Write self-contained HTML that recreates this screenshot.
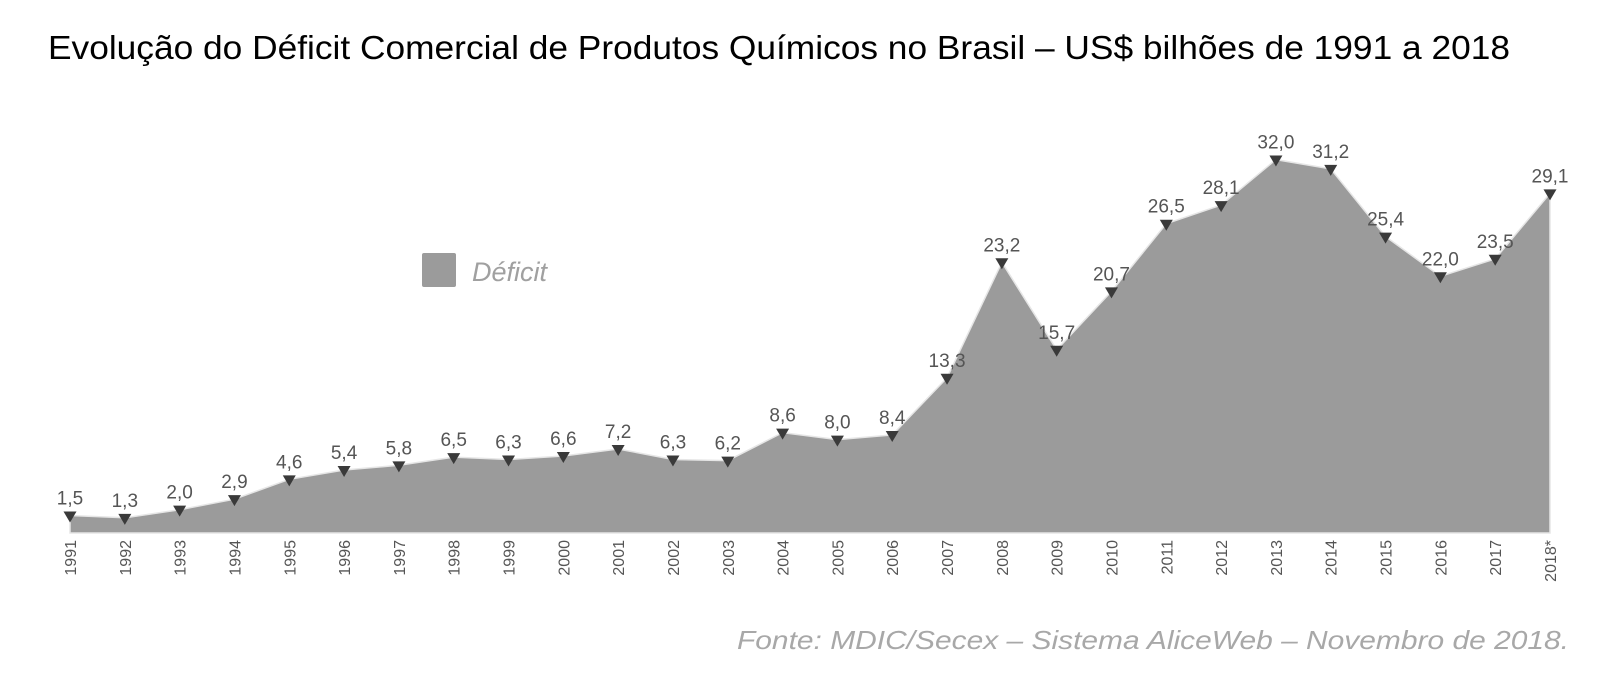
<!DOCTYPE html>
<html><head><meta charset="utf-8"><style>
html,body{margin:0;padding:0;background:#fff;width:1600px;height:681px;overflow:hidden}
svg{display:block}
</style></head><body>
<svg id="chart" width="1600" height="681" xmlns="http://www.w3.org/2000/svg">
<text x="48" y="59" font-family="Liberation Sans, sans-serif" font-size="33" fill="#000" textLength="1462" lengthAdjust="spacingAndGlyphs">Evolução do Déficit Comercial de Produtos Químicos no Brasil – US$ bilhões de 1991 a 2018</text>
<g>
<rect x="422" y="253" width="34" height="34" rx="2" fill="#9b9b9b"/>
<text x="472" y="281" font-family="Liberation Sans, sans-serif" font-style="italic" font-size="27" fill="#a0a0a0">Déficit</text>
</g>
<g id="plot"></g>
<text x="1569" y="649" text-anchor="end" font-family="Liberation Sans, sans-serif" font-style="italic" font-size="26" fill="#a8a8a8" textLength="832" lengthAdjust="spacingAndGlyphs">Fonte: MDIC/Secex – Sistema AliceWeb – Novembro de 2018.</text>
</svg>
<script>
const years = ["1991","1992","1993","1994","1995","1996","1997","1998","1999","2000","2001","2002","2003","2004","2005","2006","2007","2008","2009","2010","2011","2012","2013","2014","2015","2016","2017","2018*"];
const deficit = [1.5,1.3,2.0,2.9,4.6,5.4,5.8,6.5,6.3,6.6,7.2,6.3,6.2,8.6,8.0,8.4,13.3,23.2,15.7,20.7,26.5,28.1,32.0,31.2,25.4,22.0,23.5,29.1];
const valueLabels = ["1,5","1,3","2,0","2,9","4,6","5,4","5,8","6,5","6,3","6,6","7,2","6,3","6,2","8,6","8,0","8,4","13,3","23,2","15,7","20,7","26,5","28,1","32,0","31,2","25,4","22,0","23,5","29,1"];

const NS = "http://www.w3.org/2000/svg";
const plot = document.getElementById("plot");
const X0 = 70, X1 = 1550, BASE = 533, PXU = 11.67;
function xScale(i){ return X0 + i * (X1 - X0) / (years.length - 1); }
function yScale(v){ return BASE - v * PXU; }

let d = "M" + xScale(0) + "," + BASE;
deficit.forEach((v,i)=>{ d += " L" + xScale(i).toFixed(1) + "," + yScale(v).toFixed(1); });
d += " L" + xScale(deficit.length-1) + "," + BASE + " Z";
const area = document.createElementNS(NS,"path");
area.setAttribute("d", d);
area.setAttribute("fill", "#9b9b9b");
area.setAttribute("stroke", "#e6e6e6");
area.setAttribute("stroke-width", "1.5");


plot.appendChild(area);

deficit.forEach((v,i)=>{
  const x = xScale(i), y = yScale(v);
  const tri = document.createElementNS(NS,"polygon");
  tri.setAttribute("points", (x-6.5)+","+(y-4)+" "+(x+6.5)+","+(y-4)+" "+x+","+(y+7));
  tri.setAttribute("fill", "#3a3a3a");
  
  
  plot.appendChild(tri);

  const t = document.createElementNS(NS,"text");
  t.setAttribute("x", x);
  t.setAttribute("y", y - 11);
  t.setAttribute("text-anchor", "middle");
  t.setAttribute("font-family", "Liberation Sans, sans-serif");
  t.setAttribute("font-size", "19");
  t.setAttribute("fill", "#555");
  t.textContent = valueLabels[i];
  
  
  plot.appendChild(t);

  const yl = document.createElementNS(NS,"text");
  yl.setAttribute("transform", "translate(" + (x + 6) + "," + (BASE + 7) + ") rotate(-90)");
  yl.setAttribute("text-anchor", "end");
  yl.setAttribute("font-family", "Liberation Sans, sans-serif");
  yl.setAttribute("font-size", "16");
  yl.setAttribute("fill", "#555");
  yl.textContent = years[i];
  
  
  plot.appendChild(yl);
});
</script>
</body></html>
